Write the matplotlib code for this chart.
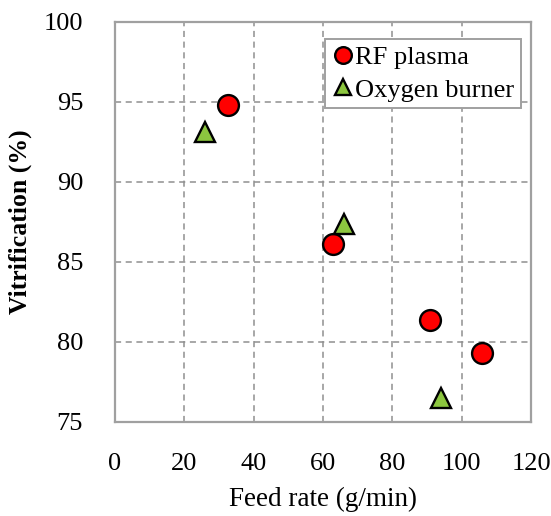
import matplotlib.pyplot as plt

# datos
rf_feed = [32.6, 62.9, 91.0, 106.0]
rf_vitr = [94.8, 86.1, 81.4, 79.3]
ox_feed = [25.9, 66.0, 94.0]
ox_vitr = [93.1, 87.4, 76.5]
x_ticks = [0, 20, 40, 60, 80, 100, 120]
y_ticks = [75, 80, 85, 90, 95, 100]

plt.rcParams['font.family'] = ['Liberation Serif', 'DejaVu Serif']

fig = plt.figure(figsize=(5.51, 5.16), dpi=100)
ax = fig.add_axes([0.2087, 0.1822, 0.755, 0.7752])

ax.plot(rf_feed, rf_vitr, 'o', color='#ff0000', markeredgecolor='black',
        markeredgewidth=1.7, markersize=15, label='RF plasma', zorder=3)
ax.plot(ox_feed, ox_vitr, '^', color='#8cc63f', markeredgecolor='black',
        markeredgewidth=1.7, markersize=15, label='Oxygen burner', zorder=3)

ax.set_xlim(0, 120)
ax.set_ylim(75, 100)
ax.set_xticks(x_ticks)
ax.set_yticks(y_ticks)
ax.tick_params(axis='x', length=0, pad=22, labelsize=19)
ax.tick_params(axis='y', length=0, pad=23, labelsize=19)
ax.grid(True, linestyle=(0, (4, 3)), color='#909090', linewidth=1.1)
ax.set_axisbelow(True)
for s in ax.spines.values():
    s.set_color('#a0a0a0')
    s.set_linewidth(1.6)

ax.set_xlabel('Feed rate (g/min)', fontsize=19.5, labelpad=9)
ax.set_ylabel('Vitrification (%)', fontsize=18.5, fontweight='bold', labelpad=8)

leg = ax.legend(loc='upper right', bbox_to_anchor=(0.976, 0.958), fontsize=19,
                fancybox=False, framealpha=1, edgecolor='#a0a0a0',
                handletextpad=0.0, borderpad=0.25, labelspacing=0.35,
                handlelength=0.9, markerscale=0.8, borderaxespad=0)
leg.get_frame().set_linewidth(1.4)

plt.savefig('out.png', dpi=100)
plt.close()
